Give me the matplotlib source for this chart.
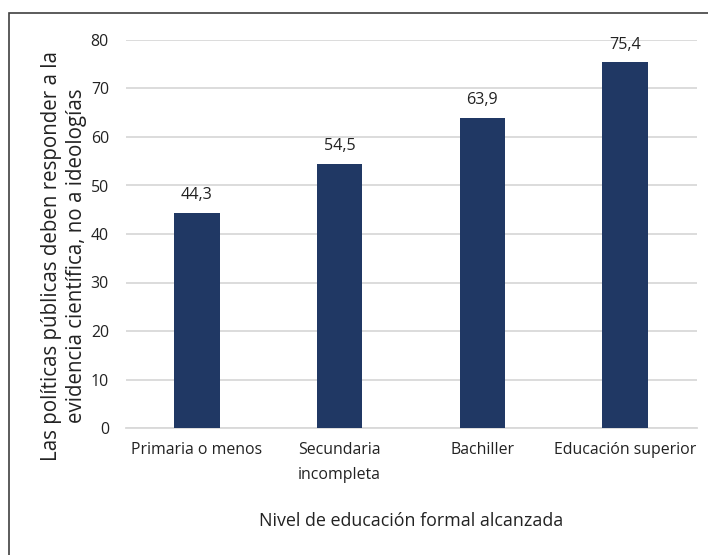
import matplotlib.pyplot as plt
from matplotlib.patches import Rectangle

categories = ["Primaria o menos", "Secundaria\nincompleta", "Bachiller", "Educación superior"]
values = [44.3, 54.5, 63.9, 75.4]
value_labels = ["44,3", "54,5", "63,9", "75,4"]
yticks = [0, 10, 20, 30, 40, 50, 60, 70, 80]

plt.rcParams['font.family'] = ['Open Sans', 'DejaVu Sans']
txt = "#222222"

fig = plt.figure(figsize=(7.08, 5.55), dpi=100)
ax = fig.add_axes([125.5 / 708, 1 - 428 / 555, 571 / 708, 388 / 555])

x = range(len(categories))
bars = ax.bar(x, values, width=0.32, color="#203864", zorder=3)
for b, lab in zip(bars, value_labels):
    ax.annotate(lab, (b.get_x() + b.get_width() / 2, b.get_height()),
                xytext=(0, 7), textcoords="offset points",
                ha="center", va="bottom", fontsize=11.6, color=txt)

ax.set_xlim(-0.5, len(categories) - 0.5)
ax.set_ylim(0, 80)
ax.set_yticks(yticks)
ax.set_xticks(list(x))
ax.set_xticklabels(categories, fontsize=11.4, color=txt, linespacing=1.75)
ax.tick_params(axis="y", length=0, labelsize=11.4, labelcolor=txt, pad=12)
ax.tick_params(axis="x", length=0, pad=10)
ax.grid(axis="y", color="#D9D9D9", linewidth=1.3, zorder=0)
for s in ["top", "right", "left"]:
    ax.spines[s].set_visible(False)
ax.spines["bottom"].set_color("#D9D9D9")
ax.spines["bottom"].set_linewidth(1.3)

fig.text(64 / 708, 1 - 256 / 555,
         "Las políticas públicas deben responder a la\nevidencia científica, no a ideologías",
         rotation=90, ha="center", va="center", fontsize=14.8, color=txt, linespacing=1.25)
fig.text(411 / 708, 1 - 521 / 555, "Nivel de educación formal alcanzada",
         ha="center", va="center", fontsize=12.9, color=txt)

fig.patches.append(Rectangle((9 / 708, -0.1), 1.2, 1 - 13 / 555 + 0.1, transform=fig.transFigure,
                             fill=False, edgecolor="#404040", linewidth=1.2))

fig.savefig("out.png", dpi=100)
